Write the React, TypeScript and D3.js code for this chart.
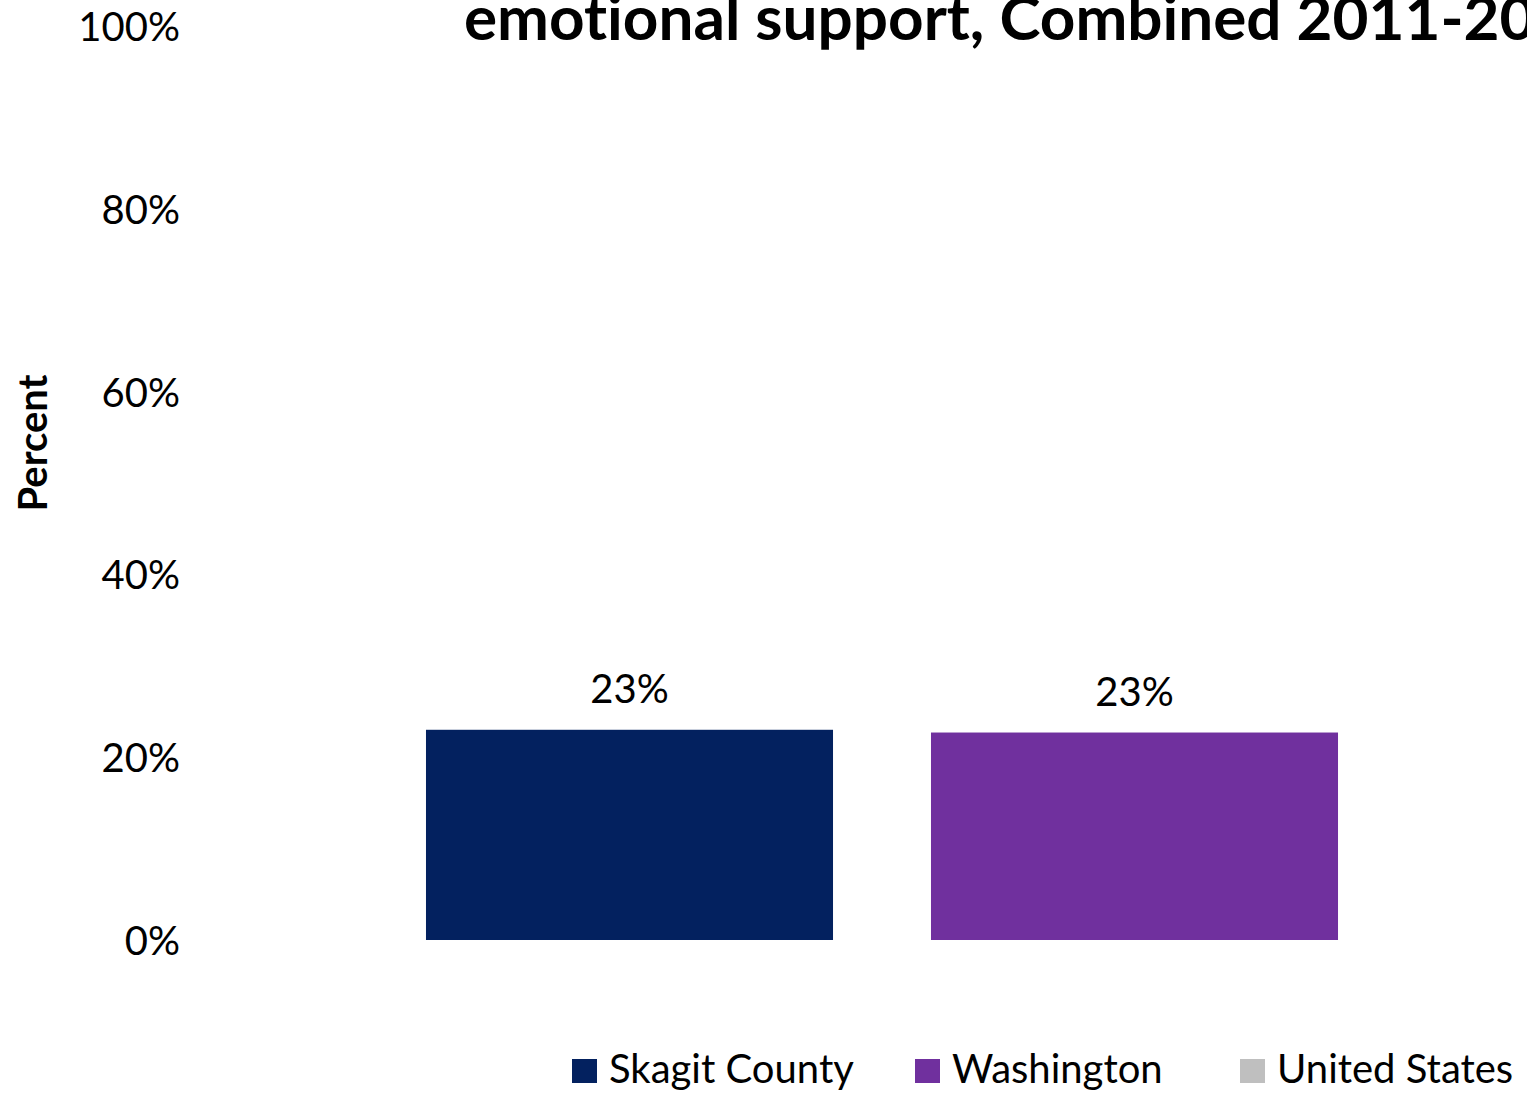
import React from "react";
import * as d3 from "d3";

const series = ["Skagit County", "Washington", "United States"];
const values: (number | null)[] = [0.23, 0.227, null];
const colors = ["#03215f", "#70309e", "#bfbfbf"];
const yTicks = [0, 0.2, 0.4, 0.6, 0.8, 1.0];
const titleText = "emotional support, Combined 2011-2013";
const yAxisTitle = "Percent";

const W = 1527;
const H = 1095;
const FONT = "Lato, 'Open Sans', sans-serif";

export default function App() {
  const y = d3.scaleLinear().domain([0, 1]).range([940, 26]);
  const x = d3
    .scaleBand<string>()
    .domain(series)
    .range([377, 377 + 3 * 505])
    .paddingInner(0.194)
    .paddingOuter(0.097);
  const fmt = d3.format(".0%");

  const legendX = [572, 915, 1240];

  return (
    <svg
      width={W}
      height={H}
      style={{
        display: "block",
        position: "absolute",
        left: 0,
        top: 0,
        background: "#fff",
        fontVariantLigatures: "none",
        fontKerning: "normal",
      }}
      fontFamily={FONT}
    >
      <rect x={0} y={0} width={W} height={H} fill="#fff" />
      <text x={464} y={40} fontSize={62} fontWeight={700} fill="#000">
        {titleText}
      </text>
      <text
        transform={`translate(47,443) rotate(-90)`}
        textAnchor="middle"
        fontSize={40}
        fontWeight={700}
        fill="#000"
      >
        {yAxisTitle}
      </text>
      {yTicks.map((t) => (
        <text
          key={t}
          x={180}
          y={y(t)}
          textAnchor="end"
          dominantBaseline="central"
          fontSize={40}
          fill="#000"
        >
          {fmt(t)}
        </text>
      ))}
      {series.map((s, i) => {
        const v = values[i];
        if (v == null) return null;
        return (
          <g key={s}>
            <rect
              x={x(s)}
              y={y(v)}
              width={x.bandwidth()}
              height={y(0) - y(v)}
              fill={colors[i]}
            />
            <text
              x={(x(s) as number) + x.bandwidth() / 2}
              y={y(v) - 27}
              textAnchor="middle"
              fontSize={40}
              fill="#000"
            >
              {fmt(v)}
            </text>
          </g>
        );
      })}
      {series.map((s, i) => (
        <g key={s} transform={`translate(${legendX[i]},1071)`}>
          <rect x={0} y={-12} width={25} height={24} fill={colors[i]} />
          <text x={37} y={12} fontSize={40} fill="#000">
            {s}
          </text>
        </g>
      ))}
    </svg>
  );
}
